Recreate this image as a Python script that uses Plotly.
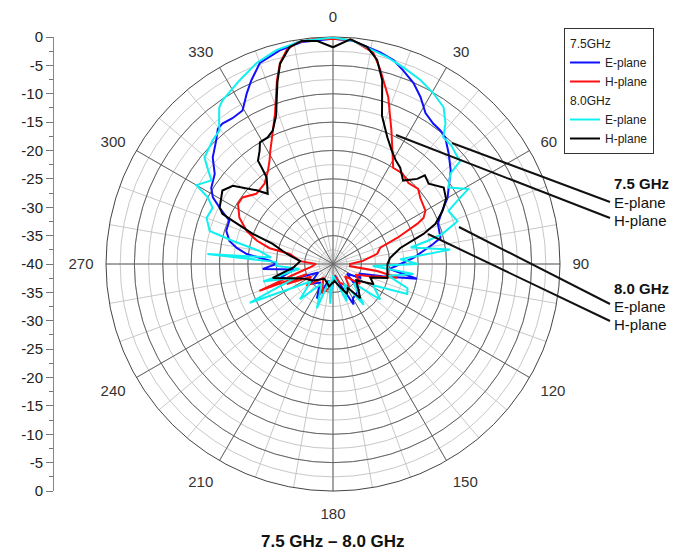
import plotly.graph_objects as go

# 7.5 GHz E-plane (blue)
theta_75e = [0, 5, 12.6, 16.5, 19.9, 24, 27.7, 31.5, 35.5, 38.8, 41.6, 46.3, 51.5, 60, 64, 69,
             76.3, 78.7, 85.7, 90, 95, 100, 104, 110, 117, 125, 135, 150, 153, 160, 170, 185,
             195, 205, 215, 229, 240, 249, 255, 262, 266, 270, 273, 276.6, 279.5, 282.6, 287.3,
             292.7, 296.4, 299, 302, 307.3, 311.5, 316.7, 319.6, 321.8, 325.4, 329.5, 333.2,
             336, 340, 346, 352, 360]
r_75e = [-0.3, -0.5, -1.8, -2.5, -3.7, -5.1, -6.8, -8.8, -9.6, -9.8, -10.2, -11.8, -13.5, -16.7,
         -18.6, -20.2, -20.5, -22, -25.8, -28.1, -30, -25, -31, -35, -34.6, -37, -33.5, -33, -32,
         -36, -38, -35, -37, -33.3, -36, -34.6, -37, -33, -30.3, -33, -27.6, -30, -28.9, -24.7,
         -22.8, -21.3, -20.3, -20.2, -17.7, -15.8, -14.7, -13.8, -11.7, -10, -8.7, -8.5, -8.8,
         -8.6, -6.3, -4.6, -2.3, -1.2, -0.5, -0.3]

# 7.5 GHz H-plane (red)
theta_75h = [0, 5, 10.8, 13.7, 18.3, 23.6, 27.6, 32, 37.5, 43, 48.6, 52.8, 60, 63, 64.5, 67.9,
             71, 77, 84, 90, 97, 99, 102, 108, 115, 126.5, 135, 145, 160, 175, 185, 200, 215,
             230, 240, 246.5, 249, 250, 255, 262, 270, 275, 283, 284, 287, 291, 296.3, 302.3,
             306.3, 312.6, 319.6, 325, 328.5, 331, 333.6, 339, 343, 345.2, 347.8, 350.7, 355, 360]
r_75h = [-0.3, -0.4, -2.1, -4.8, -9.0, -14.3, -17.4, -20, -19.9, -20.5, -20, -20.7, -21.2, -22.1,
         -23.5, -27.8, -31.2, -32, -34.7, -37, -37, -32.1, -28.4, -33, -35.5, -34.1, -37, -35,
         -36.5, -38, -36, -34.5, -37, -34, -35.5, -31.1, -35, -26.2, -33, -36, -37, -34.2, -32.2,
         -28.5, -26, -23.7, -21.6, -20.2, -20.2, -21.7, -21.4, -20, -18.6, -17.2, -15.7, -11.5,
         -6.2, -3.4, -1.4, -0.5, -0.2, -0.3]

# 8.0 GHz E-plane (cyan)
theta_80e = [0, 5, 14.7, 19.7, 25.4, 30.5, 35.2, 38.7, 41, 45, 49.5, 51, 52.4, 56.5, 61, 63, 65.3,
             71, 74.6, 76.3, 78, 83, 86, 90, 93, 97, 102, 108, 112, 118, 127, 133, 143, 150, 160,
             170, 180, 184, 192, 200, 210, 223, 232, 245, 250, 256, 262, 268, 272, 274.6, 276,
             280, 283, 285, 290, 295, 298, 300, 304.5, 307.5, 309.6, 315.7, 319.7, 321, 324, 326,
             333, 339.2, 345.3, 352, 360]
r_80e = [-0.1, -0.5, -2.3, -3.2, -4.1, -5.1, -6.2, -8.3, -10.4, -10.5, -11.1, -11.1, -13.9, -15.6,
         -12.7, -15.4, -17.6, -16.8, -20, -22.9, -26, -19.2, -28.1, -25, -33, -25.7, -30, -26.2,
         -25.9, -32, -29.6, -35, -31, -36, -33, -37, -38, -33, -37, -31.7, -36, -31.5, -35, -23.8,
         -33, -27.3, -34, -30, -30, -17.8, -29, -26.9, -21.8, -17.5, -16.3, -16.6, -15, -12.2,
         -14, -12.1, -10.6, -9.6, -9.1, -8.1, -5.9, -5.2, -3.7, -2.1, -1, -0.3, -0.1]

# 8.0 GHz H-plane (black)
theta_80h = [0, 4.4, 9, 12.2, 15, 18.3, 23.2, 27.4, 31, 34.9, 40, 44.7, 46, 50, 55.4, 60, 64,
             68.6, 71.6, 76.6, 84, 90, 94, 104.5, 110, 116.6, 125, 141.5, 148, 155, 165, 175,
             190, 210, 230, 245, 257, 265, 275, 282.3, 288.4, 290.6, 293.3, 294.4, 296.4, 303.6,
             308, 314, 317.1, 322.5, 323.5, 324, 327.1, 329, 332.7, 335.7, 339, 343, 345.2,
             348.7, 352, 356, 360]
r_80h = [-1.8, -0.3, -1.3, -3.2, -6.5, -12.5, -15.7, -17.5, -18.6, -19.3, -20.8, -18.9, -17.5,
         -18, -16.3, -17, -18.5, -20.6, -23.2, -27.8, -29.9, -30.4, -30.4, -30.1, -33, -32, -35,
         -32.3, -35, -34.2, -36, -37, -36, -37, -35.5, -34, -29.1, -33, -34.2, -31.7, -28.8, -24.9,
         -20.7, -18.6, -17.7, -16.6, -17.6, -21.3, -23.1, -20.8, -18.9, -17.5, -16.2, -15, -14.9,
         -14.2, -12, -6.5, -3.5, -1.0, -0.3, -0.6, -1.8]

angle_ticks = list(range(0, 360, 30))
minor_angles = list(range(0, 360, 10))
db_major = [-40, -35, -30, -25, -20, -15, -10, -5, 0]
db_minor = [-40 + 2.5 * i for i in range(17)]
left_ticks = list(range(-8, 9))
left_text = [str(-40 + 5 * abs(k)) for k in left_ticks]

W, H = 680, 554
cx, cy, rad = 333, 264, 227
dom_x = [(cx - rad) / W, (cx + rad) / W]
dom_y = [1 - (cy + rad) / H, 1 - (cy - rad) / H]

FONT = "Liberation Sans, Arial, sans-serif"


def px(x, y):
    return x / W, 1 - y / H


fig = go.Figure()

# empty traces so the two grid-only polar layers get drawn
fig.add_trace(go.Scatterpolar(r=[None], theta=[None], subplot="polar", showlegend=False,
                              hoverinfo="skip"))
fig.add_trace(go.Scatterpolar(r=[None], theta=[None], subplot="polar2", showlegend=False,
                              hoverinfo="skip"))

series = [
    (theta_75e, r_75e, "#1010ff", "E-plane", "g75", "7.5GHz"),
    (theta_75h, r_75h, "#ff1010", "H-plane", "g75", "7.5GHz"),
    (theta_80e, r_80e, "#10f0f0", "E-plane", "g80", "8.0GHz"),
    (theta_80h, r_80h, "#000000", "H-plane", "g80", "8.0GHz"),
]
for th, rr, col, name, grp, gtitle in series:
    fig.add_trace(go.Scatterpolar(
        theta=th, r=rr, mode="lines", name=name,
        line=dict(color=col, width=2),
        legendgroup=grp,
        legendgrouptitle=dict(text=gtitle, font=dict(size=12, color="#222", family=FONT)),
        subplot="polar3",
    ))

# dummy cartesian trace so the left dB scale is drawn
fig.add_trace(go.Scatter(x=[None], y=[None], showlegend=False, hoverinfo="skip"))

common_radial = dict(range=[-40, 0], showticklabels=False, ticks="", showline=False)
common_ang = dict(rotation=90, direction="clockwise", ticks="")

fig.update_layout(
    width=W, height=H,
    margin=dict(l=0, r=0, t=0, b=0, autoexpand=False),
    paper_bgcolor="white", plot_bgcolor="white",
    font=dict(family=FONT, color="#222"),
    polar=dict(
        domain=dict(x=dom_x, y=dom_y), bgcolor="white",
        radialaxis=dict(common_radial, tickmode="array", tickvals=db_minor,
                        gridcolor="#c8c8c8", gridwidth=1),
        angularaxis=dict(common_ang, tickmode="array", tickvals=minor_angles,
                         showticklabels=False, gridcolor="#c8c8c8", showline=False),
    ),
    polar2=dict(
        domain=dict(x=dom_x, y=dom_y), bgcolor="rgba(0,0,0,0)",
        radialaxis=dict(common_radial, tickmode="array", tickvals=db_major,
                        gridcolor="#666666", gridwidth=1),
        angularaxis=dict(rotation=90, direction="clockwise",
                         ticks="outside", ticklen=9, tickcolor="rgba(0,0,0,0)",
                         tickmode="array", tickvals=angle_ticks,
                         ticktext=[str(a) for a in angle_ticks],
                         tickfont=dict(size=15, color="#333"),
                         gridcolor="#666666", showline=True, linecolor="#444", linewidth=1),
    ),
    polar3=dict(
        domain=dict(x=dom_x, y=dom_y), bgcolor="rgba(0,0,0,0)",
        radialaxis=dict(common_radial, showgrid=False),
        angularaxis=dict(common_ang, showticklabels=False, showgrid=False, showline=False),
    ),
    xaxis=dict(domain=[54 / W, 55 / W], visible=False, range=[0, 1]),
    yaxis=dict(
        domain=dom_y, range=[-8, 8], anchor="x",
        tickmode="array", tickvals=left_ticks, ticktext=left_text,
        ticks="outside", ticklen=7, tickcolor="#777", showline=True, linecolor="#888",
        showgrid=False, zeroline=False, tickfont=dict(size=15, color="#222"),
        minor=dict(tickvals=[k + 0.5 for k in range(-8, 8)], ticks="outside",
                   ticklen=4, tickcolor="#777", showgrid=False),
    ),
    legend=dict(
        x=564 / W, y=1 - 28 / H, xanchor="left", yanchor="top",
        bordercolor="#333", borderwidth=1, bgcolor="white",
        font=dict(size=12, color="#222"), tracegroupgap=0, itemwidth=30,
    ),
)

# labels on the right with pointer lines
for txt, y in [("<b>7.5 GHz</b>", 183), ("E-plane", 202), ("H-plane", 220),
               ("<b>8.0 GHz</b>", 288), ("E-plane", 306), ("H-plane", 324)]:
    x0, y0 = px(612, y)
    fig.add_annotation(x=x0, y=y0, xref="paper", yref="paper", text=txt, showarrow=False,
                       xanchor="left", yanchor="middle", font=dict(size=15, color="#111"))

for (xa, ya), (xb, yb) in [((396, 135), (610, 218)), ((452, 143), (610, 202)),
                           ((459, 227), (610, 304)), ((428, 234), (610, 321))]:
    a, b = px(xa, ya)
    c, d = px(xb, yb)
    fig.add_shape(type="line", xref="paper", yref="paper", x0=a, y0=b, x1=c, y1=d,
                  line=dict(color="#111", width=2))

tx, ty = px(333, 541)
fig.add_annotation(x=tx, y=ty, xref="paper", yref="paper", text="<b>7.5 GHz \u2013 8.0 GHz</b>",
                   showarrow=False, xanchor="center", yanchor="middle",
                   font=dict(size=17, color="#111"))

fig.write_html("out.html", config={"displayModeBar": False},
               post_script="document.body.style.margin='0';")
